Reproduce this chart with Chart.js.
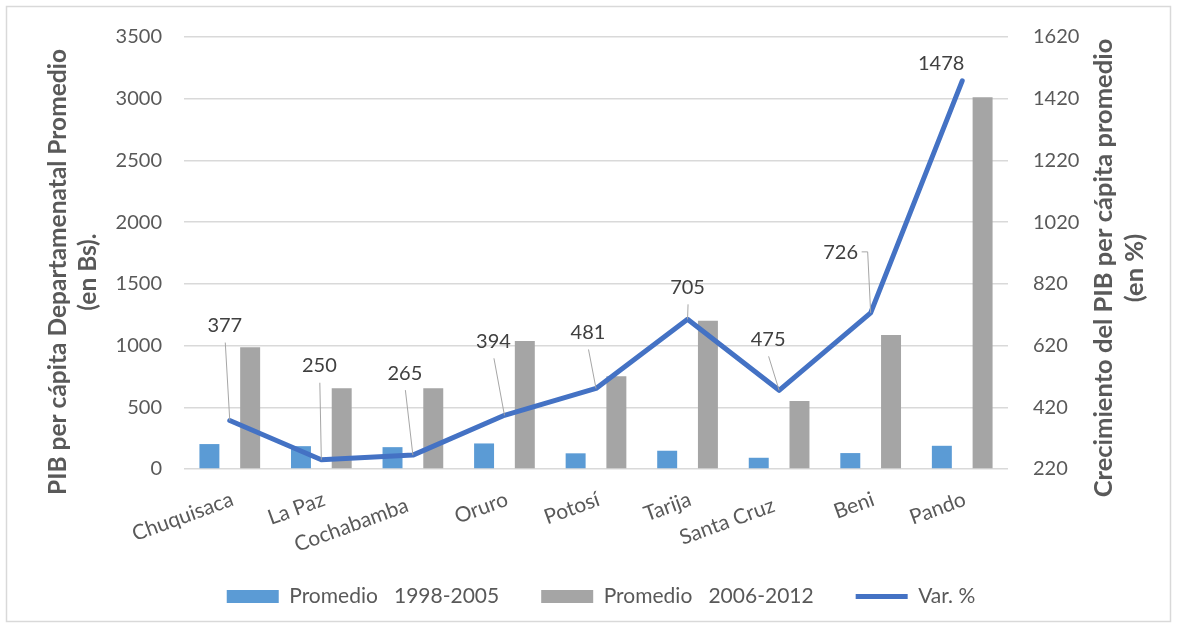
<!DOCTYPE html>
<html lang="es">
<head>
<meta charset="utf-8">
<title>PIB per cápita departamental</title>
<script src="https://cdn.jsdelivr.net/npm/chart.js@4.4.1/dist/chart.umd.min.js"></script>
<style>
  html, body { margin: 0; padding: 0; background: #ffffff; }
  #wrap { position: relative; width: 1177px; height: 628px; }
</style>
</head>
<body>
<div id="wrap"><canvas id="chart" width="1177" height="628"></canvas></div>
<script>
// Departamentos de Bolivia
const categories = ['Chuquisaca', 'La Paz', 'Cochabamba', 'Oruro', 'Potosí', 'Tarija', 'Santa Cruz', 'Beni', 'Pando'];

// PIB per cápita departamental promedio (en Bs.)
const promedio1998_2005 = [202, 185, 177, 207, 127, 148, 91, 129, 188];
const promedio2006_2012 = [987, 655, 655, 1037, 752, 1202, 551, 1085, 3011];

// Crecimiento del PIB per cápita promedio (en %)
const variacion = [377, 250, 265, 394, 481, 705, 475, 726, 1478];

// Axis ranges and tick steps
const leftTicks = { min: 0, max: 3500, step: 500 };
const rightTicks = { min: 220, max: 1620, step: 200 };

const seriesNames = ['Promedio   1998-2005', 'Promedio   2006-2012', 'Var. %'];

// Placement of the value labels relative to their point, and the kind of leader line
const labelOffsets = [[-5, -95], [-2, -94], [-8, -82], [-11, -74], [-8, -56], [0, -32], [-11, -51], [-30, -60], [-21, -17]];
const leaderKind = ['down', 'down', 'down', 'down', 'down', 'down', 'down', 'side', 'none'];
// Category labels pushed down a row so that neighbours do not overlap
const staggered = [false, false, true, false, false, false, true, false, false];

const FONT = 'Lato, "Open Sans", "Liberation Sans", sans-serif';
const TEXT = '#595959';

const frame = {
  id: 'frame',
  beforeDraw(chart) {
    const ctx = chart.ctx;
    ctx.save();
    ctx.fillStyle = '#ffffff';
    ctx.fillRect(0, 0, chart.width, chart.height);
    ctx.strokeStyle = '#d9d9d9';
    ctx.lineWidth = 1.5;
    ctx.strokeRect(6.5, 6.5, 1164, 615);
    ctx.restore();
  }
};

const axisTitles = {
  id: 'axisTitles',
  afterDraw(chart) {
    const ctx = chart.ctx;
    const draw = (x, y, text) => {
      ctx.save();
      ctx.translate(x, y);
      ctx.rotate(-Math.PI / 2);
      ctx.textAlign = 'center';
      ctx.textBaseline = 'middle';
      ctx.fillText(text, 0, 0);
      ctx.restore();
    };
    ctx.save();
    ctx.fillStyle = TEXT;
    ctx.font = 'bold 24.5px ' + FONT;
    draw(58, 272, 'PIB per cápita Departamenatal Promedio');
    draw(88, 272, '(en Bs).');
    ctx.font = 'bold 25.5px ' + FONT;
    draw(1104, 268, 'Crecimiento del PIB per cápita promedio');
    draw(1135, 268, '(en %)');
    ctx.restore();
  }
};

const categoryLabels = {
  id: 'categoryLabels',
  afterDraw(chart) {
    const ctx = chart.ctx;
    const xs = chart.scales.x;
    const base = chart.chartArea.bottom;
    ctx.save();
    ctx.fillStyle = TEXT;
    ctx.font = '21px ' + FONT;
    ctx.textAlign = 'right';
    ctx.textBaseline = 'alphabetic';
    categories.forEach((name, i) => {
      const x = xs.getPixelForValue(i) + (staggered[i] ? -3 : 5);
      const y = base + (staggered[i] ? 42 : 36);
      ctx.save();
      ctx.translate(x, y);
      ctx.rotate(-20 * Math.PI / 180);
      ctx.fillText(name, 0, 0);
      ctx.restore();
    });
    ctx.restore();
  }
};

const valueLabels = {
  id: 'valueLabels',
  afterDatasetsDraw(chart) {
    const ctx = chart.ctx;
    const meta = chart.getDatasetMeta(2);
    ctx.save();
    ctx.font = '20px ' + FONT;
    ctx.textAlign = 'center';
    ctx.textBaseline = 'middle';
    meta.data.forEach((pt, i) => {
      const lx = pt.x + labelOffsets[i][0];
      const ly = pt.y + labelOffsets[i][1];
      ctx.strokeStyle = '#a6a6a6';
      ctx.lineWidth = 1;
      if (leaderKind[i] === 'down') {
        ctx.beginPath();
        ctx.moveTo(lx + 0.5, ly + 17);
        ctx.lineTo(pt.x, pt.y);
        ctx.stroke();
      } else if (leaderKind[i] === 'side') {
        ctx.beginPath();
        ctx.moveTo(lx + 21, ly - 1);
        ctx.lineTo(lx + 27, ly - 1);
        ctx.lineTo(pt.x, pt.y);
        ctx.stroke();
      }
      ctx.fillStyle = '#404040';
      ctx.fillText(String(variacion[i]), lx, ly);
    });
    ctx.restore();
  }
};

const plain = v => String(v);

new Chart(document.getElementById('chart'), {
  type: 'bar',
  data: {
    labels: categories,
    datasets: [
      {
        label: seriesNames[0],
        data: promedio1998_2005,
        backgroundColor: '#5b9bd5',
        borderWidth: 0,
        yAxisID: 'y',
        order: 1,
        pointStyle: 'rect',
        categoryPercentage: 0.89,
        barPercentage: 0.49
      },
      {
        label: seriesNames[1],
        data: promedio2006_2012,
        backgroundColor: '#a5a5a5',
        borderWidth: 0,
        yAxisID: 'y',
        order: 1,
        pointStyle: 'rect',
        categoryPercentage: 0.89,
        barPercentage: 0.49
      },
      {
        type: 'line',
        label: seriesNames[2],
        data: variacion,
        borderColor: '#4472c4',
        backgroundColor: '#4472c4',
        borderWidth: 5,
        borderCapStyle: 'round',
        borderJoinStyle: 'round',
        pointRadius: 0,
        pointStyle: 'line',
        tension: 0,
        yAxisID: 'y1',
        order: 0
      }
    ]
  },
  options: {
    responsive: false,
    animation: false,
    layout: { padding: { top: 36, bottom: 11, left: 25, right: 0 } },
    plugins: {
      legend: {
        position: 'bottom',
        labels: {
          usePointStyle: true,
          pointStyleWidth: 52,
          boxHeight: 13,
          padding: 42,
          color: TEXT,
          font: { family: FONT, size: 21 },
          sort: (a, b) => a.datasetIndex - b.datasetIndex
        }
      },
      tooltip: { enabled: false }
    },
    scales: {
      x: {
        grid: { display: false },
        border: { display: false },
        ticks: { display: false },
        afterFit: s => { s.height = 75; }
      },
      y: {
        position: 'left',
        min: leftTicks.min,
        max: leftTicks.max,
        ticks: { stepSize: leftTicks.step, callback: plain, color: TEXT, padding: 22, font: { family: FONT, size: 20 } },
        grid: { color: '#d9d9d9', lineWidth: 1.5, drawTicks: false },
        border: { display: false },
        afterFit: s => { s.width = 159; }
      },
      y1: {
        position: 'right',
        min: rightTicks.min,
        max: rightTicks.max,
        ticks: { stepSize: rightTicks.step, callback: plain, color: TEXT, padding: 25, font: { family: FONT, size: 20 } },
        grid: { display: false, drawTicks: false },
        border: { display: false },
        afterFit: s => { s.width = 169; }
      }
    }
  },
  plugins: [frame, axisTitles, categoryLabels, valueLabels]
});
</script>
</body>
</html>
